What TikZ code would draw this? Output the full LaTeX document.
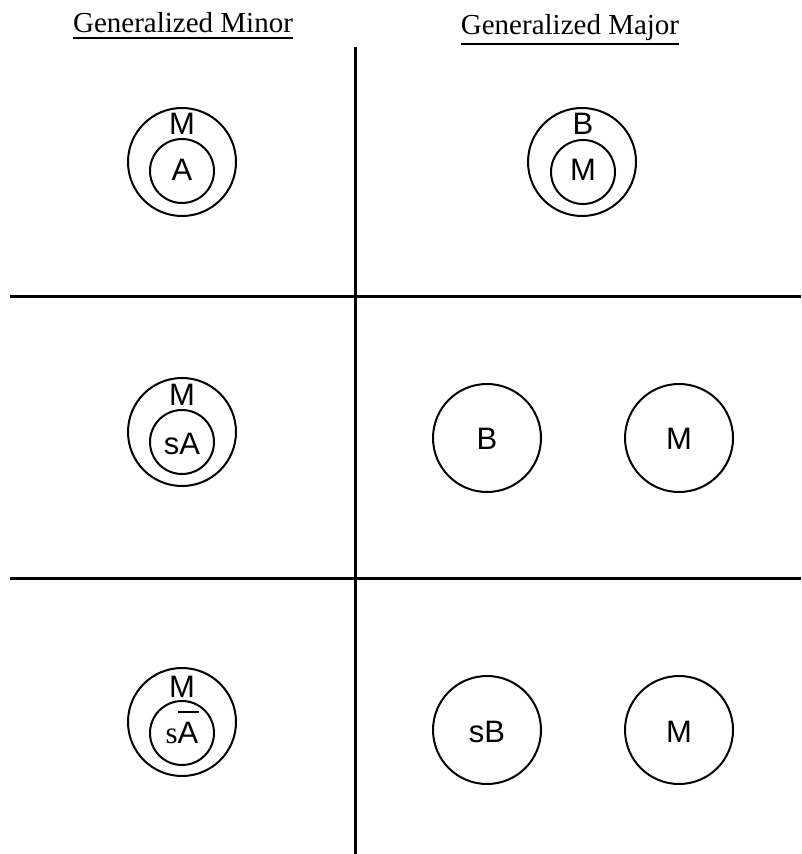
\documentclass[tikz,border=0pt]{standalone}
\usepackage{fontspec}
\setmainfont{Liberation Serif}
\setsansfont{Liberation Sans}
\newcommand\myabar{\leavevmode\rlap{\hspace{0.3pt}\raisebox{15pt}{\rule{10.5pt}{1pt}}}A}
\newcommand\myul[2]{\setbox0\hbox{#2}\rlap{\rule[#1]{\wd0}{1pt}}\box0}
\begin{document}
\begin{tikzpicture}[x=0.5pt,y=-0.5pt,
  lbl/.style={font=\sffamily\fontsize{15.5}{18}\selectfont, inner sep=0pt, anchor=base},
  hdr/.style={font=\rmfamily\fontsize{14.5}{17}\selectfont, inner sep=0pt, anchor=base},
  ring/.style={circle, draw, line width=1pt, inner sep=0pt, minimum size=#1},
  rule/.style={line width=1.5pt}]
\useasboundingbox (0,0) rectangle (801,854);
% headers
\node[hdr] (hmin) at (183,33) {\myul{-3pt}{Generalized Minor}};
\node[hdr] (hmaj) at (570,35) {\myul{-5pt}{Generalized Major}};
% grid lines
\coordinate (vt) at (355,47);
\coordinate (vb) at (355,854);
\coordinate (h1l) at (10,297);
\coordinate (h1r) at (801,297);
\coordinate (h2l) at (10,578);
\coordinate (h2r) at (801,578);
\draw[rule] (vt) -- (vb);
\draw[rule] (h1l) -- (h1r);
\draw[rule] (h2l) -- (h2r);
% row 1 left
\node[ring=54pt] (o1) at (182,162) {};
\node[ring=32pt] (i1) at (182,171) {};
\node[lbl] (o1t) at (182,135) {M};
\node[lbl] (i1t) at (182,181) {A};
% row 1 right
\node[ring=54pt] (o2) at (582,162) {};
\node[ring=32pt] (i2) at (583,172) {};
\node[lbl] (o2t) at (583,135) {B};
\node[lbl] (i2t) at (583,181) {M};
% row 2 left
\node[ring=54pt] (o3) at (182,432) {};
\node[ring=32pt] (i3) at (182,442) {};
\node[lbl] (o3t) at (182,406) {M};
\node[lbl] (i3t) at (182,454) {sA};
% row 2 right
\node[ring=54pt] (c1) at (487,438) {};
\node[ring=54pt] (c2) at (679,438) {};
\node[lbl] (c1t) at (487,449) {B};
\node[lbl] (c2t) at (679,449) {M};
% row 3 left
\node[ring=54pt] (o4) at (182,722) {};
\node[ring=32pt] (i4) at (182,733) {};
\node[lbl] (o4t) at (182,697) {M};
\node[lbl] (i4t) at (182,743) {{\rmfamily s}\myabar};
% row 3 right
\node[ring=54pt] (c3) at (487,730) {};
\node[ring=54pt] (c4) at (679,730) {};
\node[lbl] (c3t) at (487,742) {sB};
\node[lbl] (c4t) at (679,742) {M};
\end{tikzpicture}
\end{document}
